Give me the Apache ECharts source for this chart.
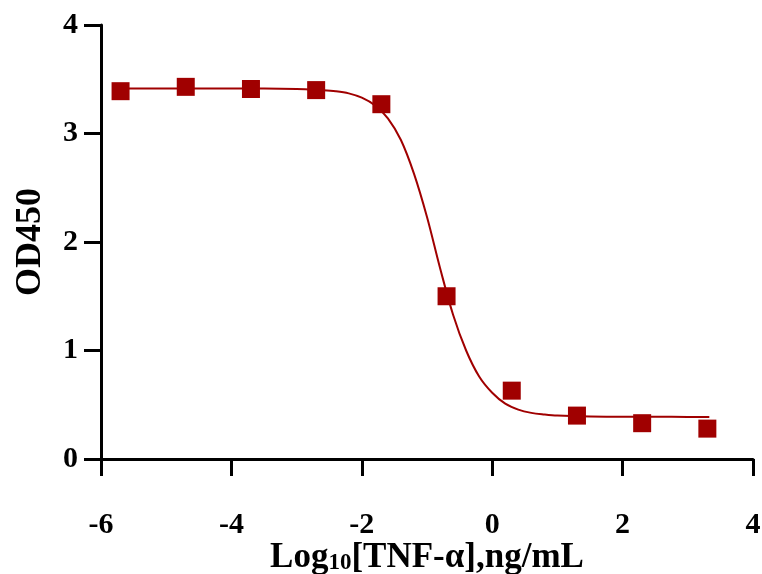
<!DOCTYPE html>
<html>
<head>
<meta charset="utf-8">
<script src="https://cdn.jsdelivr.net/npm/echarts@6/dist/echarts.min.js"></script>
<style>
html,body{margin:0;padding:0;background:#fff;}
#chart{width:762px;height:574px;}
</style>
</head>
<body>
<div id="chart"></div>
<script>
// Measured data points (log10 concentration, OD450)
const pointX = [-5.70, -4.70, -3.70, -2.70, -1.70, -0.70, 0.30, 1.30, 2.30, 3.30];
const pointY = [3.39, 3.43, 3.41, 3.40, 3.27, 1.50, 0.63, 0.40, 0.33, 0.28];

// Fitted curve
const curveX = [-5.70, -5.00, -4.50, -4.00, -3.50, -3.00, -2.80, -2.60, -2.40, -2.20, -2.00, -1.80, -1.60, -1.40, -1.20, -1.00, -0.80, -0.60, -0.40, -0.20, 0.00, 0.20, 0.40, 0.60, 0.80, 1.00, 1.50, 2.00, 2.50, 3.00, 3.33];
const curveY = [3.415, 3.415, 3.415, 3.415, 3.414, 3.41, 3.405, 3.40, 3.39, 3.37, 3.33, 3.26, 3.14, 2.94, 2.63, 2.23, 1.76, 1.33, 1.00, 0.76, 0.61, 0.51, 0.455, 0.425, 0.41, 0.40, 0.392, 0.39, 0.389, 0.388, 0.388];

// Axis ticks
const xTicks = {min: -6, max: 4, step: 2};
const yTicks = {min: 0, max: 4, step: 1};

const FONT = '"Liberation Serif", "Times New Roman", serif';
const RED = '#A00000';

const chart = echarts.init(document.getElementById('chart'), null, {renderer: 'canvas'});
chart.setOption({
  animation: false,
  backgroundColor: '#fff',
  grid: {left: 101, right: 9, top: 25, bottom: 115, containLabel: false, outerBoundsMode: 'none'},
  xAxis: {
    type: 'value',
    min: xTicks.min, max: xTicks.max, interval: xTicks.step,
    name: '{a|Log}{b|10}{a|[TNF-α],ng/mL}',
    nameLocation: 'middle',
    nameGap: 76,
    nameMoveOverlap: false,
    nameTextStyle: {
      rich: {
        a: {fontFamily: FONT, fontWeight: 'bold', fontSize: 35, color: '#000', verticalAlign: 'bottom', lineHeight: 40},
        b: {fontFamily: FONT, fontWeight: 'bold', fontSize: 23, color: '#000', verticalAlign: 'bottom', lineHeight: 12}
      }
    },
    axisLine: {show: true, onZero: false, lineStyle: {color: '#000', width: 3}},
    axisTick: {show: true, inside: false, length: 17, lineStyle: {color: '#000', width: 3}},
    axisLabel: {margin: 51, fontFamily: FONT, fontWeight: 'bold', fontSize: 30, color: '#000'},
    splitLine: {show: false}
  },
  yAxis: {
    type: 'value',
    min: yTicks.min, max: yTicks.max, interval: yTicks.step,
    name: 'OD450',
    nameLocation: 'middle',
    nameGap: 52,
    nameMoveOverlap: false,
    nameTextStyle: {fontFamily: FONT, fontWeight: 'bold', fontSize: 36, color: '#000'},
    axisLine: {show: true, onZero: false, lineStyle: {color: '#000', width: 3}},
    axisTick: {show: true, inside: false, length: 17, lineStyle: {color: '#000', width: 3}},
    axisLabel: {margin: 23, fontFamily: FONT, fontWeight: 'bold', fontSize: 30, color: '#000'},
    splitLine: {show: false}
  },
  series: [
    {
      type: 'line',
      data: curveX.map((x, i) => [x, curveY[i]]),
      smooth: 0.35,
      showSymbol: false,
      symbol: 'none',
      lineStyle: {color: RED, width: 2},
      z: 2
    },
    {
      type: 'scatter',
      data: pointX.map((x, i) => [x, pointY[i]]),
      symbol: 'rect',
      symbolSize: 18,
      itemStyle: {color: RED, opacity: 1},
      z: 3
    }
  ]
});
</script>
</body>
</html>
